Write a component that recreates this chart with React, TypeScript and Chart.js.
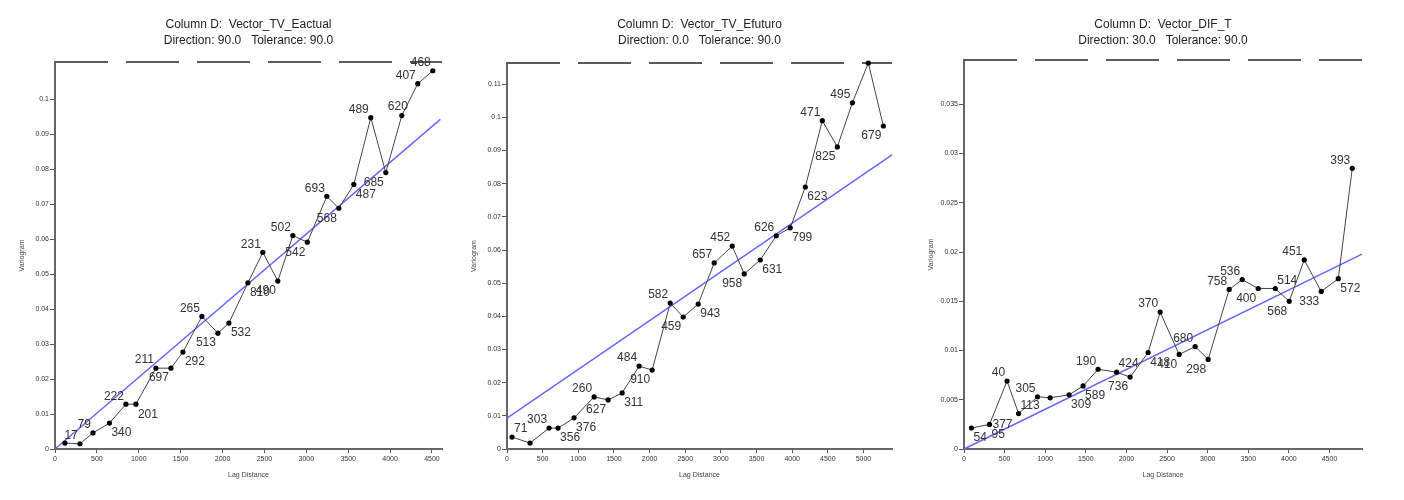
import React, { useEffect, useRef } from "react";
import { Chart, registerables } from "chart.js";
Chart.register(...registerables);

// ---------- Chart 1: Vector_TV_Eactual ----------
const lag1 = [119, 298, 453, 650, 847, 966, 1205, 1384, 1527, 1754, 1945, 2076, 2303, 2481, 2660, 2839, 3012, 3245, 3388, 3567, 3770, 3949, 4140, 4331, 4510];
const gamma1 = [0.0017, 0.0015, 0.0046, 0.0074, 0.0128, 0.0128, 0.0231, 0.0231, 0.0277, 0.0379, 0.0331, 0.036, 0.0475, 0.0562, 0.048, 0.061, 0.0591, 0.0722, 0.0688, 0.0756, 0.0947, 0.079, 0.0953, 0.1044, 0.1081];
const pairs1 = ["", "17", "79", "340", "222", "201", "211", "697", "292", "265", "513", "532", "810", "231", "490", "502", "542", "693", "568", "487", "489", "685", "620", "407", "468"];
const place1 = ["", "tl", "tl", "br", "tl", "br", "tl", "bl", "br", "tl", "bl", "br", "br", "tl", "bl", "tl", "bl", "tl", "bl", "br", "tl", "bl", "t", "tl", "tl"];
const xTicks1 = [0, 500, 1000, 1500, 2000, 2500, 3000, 3500, 4000, 4500];
const yTicks1 = [0, 0.01, 0.02, 0.03, 0.04, 0.05, 0.06, 0.07, 0.08, 0.09, 0.1];
const modelX1 = [0, 4600];
const modelY1 = [0, 0.0942];
const sill1 = 0.1106;
const xMax1 = 4620;

// ---------- Chart 2: Vector_TV_Efuturo ----------
const lag2 = [70, 323, 590, 716, 941, 1222, 1418, 1615, 1853, 2036, 2289, 2471, 2682, 2906, 3159, 3327, 3552, 3777, 3973, 4184, 4423, 4633, 4844, 5068, 5279];
const gamma2 = [0.0036, 0.0018, 0.0063, 0.0063, 0.0094, 0.0157, 0.0148, 0.0169, 0.025, 0.0238, 0.044, 0.0398, 0.0437, 0.0561, 0.0612, 0.0528, 0.057, 0.0643, 0.0667, 0.079, 0.099, 0.0911, 0.1044, 0.1164, 0.0974];
const pairs2 = ["71", "", "303", "356", "376", "260", "627", "311", "484", "910", "582", "459", "943", "657", "452", "958", "631", "626", "799", "623", "471", "825", "495", "", "679"];
const place2 = ["tr", "", "tl", "br", "br", "tl", "bl", "br", "tl", "bl", "tl", "bl", "br", "tl", "tl", "bl", "br", "tl", "br", "br", "tl", "bl", "tl", "", "bl"];
const xTicks2 = [0, 500, 1000, 1500, 2000, 2500, 3000, 3500, 4000, 4500, 5000];
const yTicks2 = [0, 0.01, 0.02, 0.03, 0.04, 0.05, 0.06, 0.07, 0.08, 0.09, 0.1, 0.11];
const modelX2 = [0, 5400];
const modelY2 = [0.0093, 0.0887];
const sill2 = 0.1164;
const xMax2 = 5400;

// ---------- Chart 3: Vector_DIF_T ----------
const lag3 = [92, 314, 530, 672, 905, 1060, 1294, 1466, 1651, 1879, 2045, 2267, 2415, 2649, 2846, 3006, 3265, 3425, 3622, 3832, 4004, 4189, 4398, 4608, 4780];
const gamma3 = [0.00213, 0.0025, 0.0069, 0.0036, 0.0053, 0.0052, 0.0055, 0.0064, 0.0081, 0.0078, 0.0073, 0.0098, 0.0139, 0.0096, 0.0104, 0.0091, 0.0162, 0.0172, 0.0163, 0.0163, 0.015, 0.0192, 0.016, 0.0173, 0.0285];
const pairs3 = ["54", "95", "40", "113", "305", "", "309", "589", "190", "424", "736", "418", "370", "410", "680", "298", "758", "536", "400", "514", "568", "451", "333", "572", "393"];
const place3 = ["br", "br", "tl", "tr", "tl", "", "br", "br", "tl", "tr", "bl", "br", "tl", "bl", "tl", "bl", "tl", "tl", "bl", "tr", "bl", "tl", "bl", "br", "tl"];
const extraPairs3 = ["377"];
const extraIndex3 = [1];
const extraPlace3 = ["r"];
const xTicks3 = [0, 500, 1000, 1500, 2000, 2500, 3000, 3500, 4000, 4500];
const yTicks3 = [0, 0.005, 0.01, 0.015, 0.02, 0.025, 0.03, 0.035];
const modelX3 = [0, 4900];
const modelY3 = [0, 0.0198];
const sill3 = 0.0395;
const xMax3 = 4900;

const FONT = '"Liberation Sans", Arial, sans-serif';
const CW = 468;
const CH = 500;

type Spec = {
  title1: string;
  title2: string;
  lag: number[];
  gamma: number[];
  pairs: string[];
  place: string[];
  extraText: string[];
  extraIdx: number[];
  extraPlace: string[];
  xTicks: number[];
  yTicks: number[];
  modelX: number[];
  modelY: number[];
  sill: number;
  xMax: number;
  canvasLeft: number;
  frame: { left: number; right: number; top: number; bottom: number };
};

const specs: Spec[] = [
  {
    title1: "Column D:  Vector_TV_Eactual",
    title2: "Direction: 90.0   Tolerance: 90.0",
    lag: lag1, gamma: gamma1, pairs: pairs1, place: place1,
    extraText: [], extraIdx: [], extraPlace: [],
    xTicks: xTicks1, yTicks: yTicks1, modelX: modelX1, modelY: modelY1, sill: sill1, xMax: xMax1,
    canvasLeft: 0,
    frame: { left: 55, right: 442, top: 62, bottom: 449 },
  },
  {
    title1: "Column D:  Vector_TV_Efuturo",
    title2: "Direction: 0.0   Tolerance: 90.0",
    lag: lag2, gamma: gamma2, pairs: pairs2, place: place2,
    extraText: [], extraIdx: [], extraPlace: [],
    xTicks: xTicks2, yTicks: yTicks2, modelX: modelX2, modelY: modelY2, sill: sill2, xMax: xMax2,
    canvasLeft: 460,
    frame: { left: 47, right: 432, top: 63, bottom: 449 },
  },
  {
    title1: "Column D:  Vector_DIF_T",
    title2: "Direction: 30.0   Tolerance: 90.0",
    lag: lag3, gamma: gamma3, pairs: pairs3, place: place3,
    extraText: extraPairs3, extraIdx: extraIndex3, extraPlace: extraPlace3,
    xTicks: xTicks3, yTicks: yTicks3, modelX: modelX3, modelY: modelY3, sill: sill3, xMax: xMax3,
    canvasLeft: 920,
    frame: { left: 44, right: 442, top: 60, bottom: 449 },
  },
];

function drawLabel(ctx: CanvasRenderingContext2D, text: string, x: number, y: number, place: string) {
  if (!text) return;
  let tx = x, ty = y;
  switch (place) {
    case "tl": ctx.textAlign = "right"; ctx.textBaseline = "bottom"; tx = x - 2; ty = y - 2; break;
    case "tr": ctx.textAlign = "left"; ctx.textBaseline = "bottom"; tx = x + 2; ty = y - 2; break;
    case "bl": ctx.textAlign = "right"; ctx.textBaseline = "top"; tx = x - 2; ty = y + 4; break;
    case "br": ctx.textAlign = "left"; ctx.textBaseline = "top"; tx = x + 2; ty = y + 4; break;
    case "t": ctx.textAlign = "center"; ctx.textBaseline = "bottom"; tx = x - 4; ty = y - 3; break;
    case "r": ctx.textAlign = "left"; ctx.textBaseline = "middle"; tx = x + 3; ty = y; break;
    default: ctx.textAlign = "center"; ctx.textBaseline = "middle";
  }
  ctx.fillText(text, tx, ty);
}

function makePlugin(spec: Spec) {
  return {
    id: "variogramDecor",
    afterDatasetsDraw(chart: any) {
      const ctx: CanvasRenderingContext2D = chart.ctx;
      const area = chart.chartArea;
      const meta = chart.getDatasetMeta(0);
      ctx.save();
      ctx.font = `12px ${FONT}`;
      ctx.fillStyle = "#333";
      spec.pairs.forEach((t, i) => {
        const el = meta.data[i];
        if (el) drawLabel(ctx, t, el.x, el.y, spec.place[i]);
      });
      spec.extraText.forEach((t, k) => {
        const el = meta.data[spec.extraIdx[k]];
        if (el) drawLabel(ctx, t, el.x, el.y, spec.extraPlace[k]);
      });
      const cx = (area.left + area.right) / 2;
      ctx.font = `12px ${FONT}`;
      ctx.fillStyle = "#222";
      ctx.textAlign = "center";
      ctx.textBaseline = "middle";
      ctx.fillText(spec.title1, cx, 25);
      ctx.fillText(spec.title2, cx, 41);
      ctx.font = `7px ${FONT}`;
      ctx.fillStyle = "#444";
      ctx.fillText("Lag Distance", cx, 475);
      ctx.translate(area.left - 33, (area.top + area.bottom) / 2);
      ctx.rotate(-Math.PI / 2);
      ctx.fillText("Variogram", 0, 0);
      ctx.restore();
    },
  };
}

function fmt(v: number) {
  return String(parseFloat(Number(v).toPrecision(6)));
}

function VariogramChart({ spec }: { spec: Spec }) {
  const ref = useRef<HTMLCanvasElement | null>(null);
  useEffect(() => {
    if (!ref.current) return;
    const f = spec.frame;
    const chart = new Chart(ref.current, {
      type: "scatter",
      data: {
        datasets: [
          {
            data: spec.lag.map((x, i) => ({ x, y: spec.gamma[i] })),
            showLine: true,
            borderColor: "#444",
            borderWidth: 1,
            pointRadius: 2.6,
            pointBackgroundColor: "#000",
            pointBorderColor: "#000",
            pointBorderWidth: 0,
            clip: false,
          } as any,
          {
            data: spec.modelX.map((x, i) => ({ x, y: spec.modelY[i] })),
            showLine: true,
            borderColor: "#6464ff",
            borderWidth: 1.4,
            pointRadius: 0,
            clip: false,
          } as any,
          {
            data: [{ x: 0, y: spec.sill }, { x: spec.xMax, y: spec.sill }],
            showLine: true,
            borderColor: "#5a5a5a",
            borderWidth: 2,
            borderDash: [53, 18],
            pointRadius: 0,
            clip: false,
          } as any,
        ],
      },
      options: {
        responsive: false,
        animation: false,
        events: [],
        layout: { padding: { top: f.top, right: CW - f.right, left: 0, bottom: 0 } },
        plugins: { legend: { display: false }, title: { display: false }, tooltip: { enabled: false } },
        scales: {
          x: {
            type: "linear",
            min: 0,
            max: spec.xMax,
            afterBuildTicks: (s: any) => { s.ticks = spec.xTicks.map((v) => ({ value: v })); },
            afterFit: (s: any) => { s.height = CH - f.bottom; },
            ticks: { callback: (v: any) => fmt(v), font: { size: 7, family: FONT }, color: "#333", padding: 2, maxRotation: 0, autoSkip: false },
            grid: { drawOnChartArea: false, drawTicks: true, tickLength: 4, color: "#555" },
            border: { display: true, color: "#666", width: 2 },
          },
          y: {
            type: "linear",
            min: 0,
            max: spec.sill,
            afterBuildTicks: (s: any) => { s.ticks = spec.yTicks.map((v) => ({ value: v })); },
            afterFit: (s: any) => { s.width = f.left; },
            ticks: { callback: (v: any) => fmt(v), font: { size: 7, family: FONT }, color: "#333", padding: 1, autoSkip: false },
            grid: { drawOnChartArea: false, drawTicks: true, tickLength: 5, color: "#555" },
            border: { display: true, color: "#666", width: 2 },
          },
        },
      } as any,
      plugins: [makePlugin(spec) as any],
    });
    return () => chart.destroy();
  }, [spec]);
  return (
    <div style={{ position: "absolute", left: spec.canvasLeft, top: 0, width: CW, height: CH }}>
      <canvas ref={ref} width={CW} height={CH} style={{ width: CW, height: CH, display: "block" }} />
    </div>
  );
}

export default function App() {
  return (
    <div style={{ position: "absolute", left: 0, top: 0, width: 1404, height: 500, background: "#fff", overflow: "hidden" }}>
      {specs.map((s, i) => (
        <VariogramChart key={i} spec={s} />
      ))}
    </div>
  );
}
